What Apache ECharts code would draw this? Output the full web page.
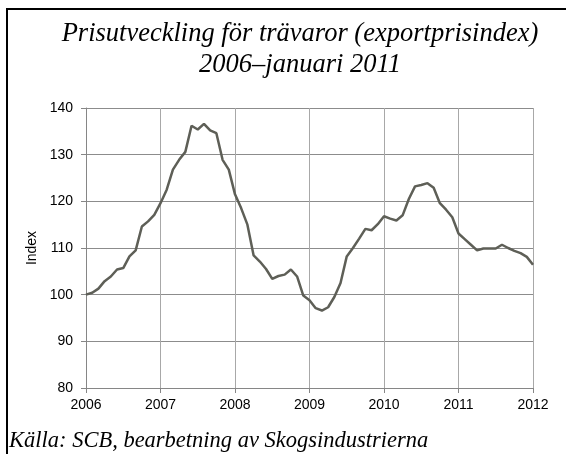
<!DOCTYPE html>
<html>
<head>
<meta charset="utf-8">
<script src="https://cdn.jsdelivr.net/npm/echarts@6/dist/echarts.min.js"></script>
<style>
  html, body { margin: 0; padding: 0; background: #fff; }
  #frame { position: absolute; left: 6px; top: 8px; width: 570px; height: 470px; border: 2px solid #000; box-sizing: border-box; }
  #chart { position: absolute; left: 0; top: 0; width: 566px; height: 454px; }
</style>
</head>
<body>
<div id="frame"></div>
<div id="chart"></div>
<script>
// månadsvärden, jan 2006 - jan 2012
var years = ['2006', '2007', '2008', '2009', '2010', '2011', '2012'];
var v2006 = [100, 100.4, 101.3, 102.9, 103.9, 105.4, 105.7, 108.2, 109.5, 114.6, 115.7, 117.1];
var v2007 = [119.6, 122.5, 126.8, 128.9, 130.6, 136.2, 135.4, 136.6, 135.2, 134.6, 128.9, 126.8];
var v2008 = [121.5, 118.5, 115, 108.4, 107.1, 105.5, 103.4, 104, 104.3, 105.4, 103.9, 99.8];
var v2009 = [98.8, 97.1, 96.6, 97.3, 99.5, 102.5, 108.2, 110, 112, 114.1, 113.8, 115.1];
var v2010 = [116.8, 116.3, 115.9, 117, 120.5, 123.2, 123.5, 123.9, 122.9, 119.6, 118.2, 116.6];
var v2011 = [113.1, 111.9, 110.7, 109.5, 109.9, 109.9, 109.9, 110.7, 110, 109.4, 108.9, 108.1];
var v2012 = [106.4];

var values = [].concat(v2006, v2007, v2008, v2009, v2010, v2011, v2012);
var months = [];
for (var i = 0; i < values.length; i++) {
    months.push(years[Math.floor(i / 12)]);
}

var myChart = echarts.init(document.getElementById('chart'));
myChart.setOption({
    animation: false,
    title: [{
        text: 'Prisutveckling för trävaror (exportprisindex)\n2006–januari 2011',
        left: 295,
        top: 14,
        textAlign: 'center',
        textStyle: {
            fontFamily: 'Liberation Serif',
            fontStyle: 'italic',
            fontWeight: 'normal',
            fontSize: 26.5,
            lineHeight: 31,
            color: '#000'
        }
    }, {
        text: 'Källa: SCB, bearbetning av Skogsindustrierna',
        left: 4,
        top: 425,
        textStyle: {
            fontFamily: 'Liberation Serif',
            fontStyle: 'italic',
            fontWeight: 'normal',
            fontSize: 22.5,
            color: '#000'
        }
    }],
    grid: { left: 86, right: 33, top: 108, bottom: 66 },
    xAxis: {
        type: 'category',
        data: months,
        boundaryGap: false,
        axisLine: { lineStyle: { color: '#868686', width: 1 } },
        axisTick: { interval: 11, length: 5, lineStyle: { color: '#868686' } },
        axisLabel: {
            interval: 11,
            color: '#000',
            fontFamily: 'Liberation Sans',
            fontSize: 14,
            margin: 10
        },
        splitLine: { show: true, interval: 11, lineStyle: { color: '#a8a8a8', width: 1 } }
    },
    yAxis: {
        type: 'value',
        min: 80,
        max: 140,
        interval: 10,
        name: 'Index',
        nameLocation: 'middle',
        nameGap: 45,
        nameTextStyle: { color: '#000', fontFamily: 'Liberation Sans', fontSize: 14 },
        axisLine: { show: true, lineStyle: { color: '#868686', width: 1 } },
        axisTick: { show: true, length: 5, lineStyle: { color: '#868686' } },
        axisLabel: {
            color: '#000',
            fontFamily: 'Liberation Sans',
            fontSize: 14,
            margin: 13
        },
        splitLine: { lineStyle: { color: '#8c8c8c', width: 1 } }
    },
    series: [{
        type: 'line',
        data: values,
        symbol: 'none',
        lineStyle: { color: '#5e5f57', width: 2.5 }
    }]
});
</script>
</body>
</html>
